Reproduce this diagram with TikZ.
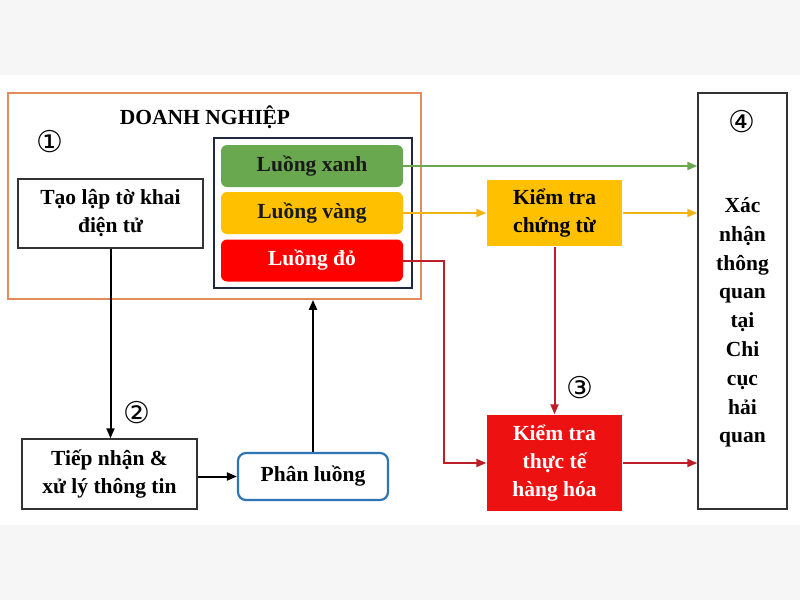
\documentclass[tikz,border=0pt]{standalone}
\usepackage{fontspec}
\setmainfont{Liberation Serif}
\newfontfamily\circfont{DejaVu Sans}
\usetikzlibrary{arrows.meta}
\definecolor{dnorange}{RGB}{226,140,92}
\definecolor{navy}{RGB}{31,40,64}
\definecolor{lxanh}{RGB}{106,168,79}
\definecolor{lvang}{RGB}{255,192,0}
\definecolor{lvangline}{RGB}{240,180,20}
\definecolor{ldo}{RGB}{255,0,0}
\definecolor{boxred}{RGB}{238,17,17}
\definecolor{darkred}{RGB}{190,30,40}
\definecolor{pblue}{RGB}{46,117,182}
\definecolor{bandgray}{RGB}{246,246,246}
\tikzset{
  box/.style={draw=black!80, line width=1.4pt, align=center, inner sep=0pt,
    font=\bfseries\fontsize{21.5}{28}\selectfont},
  lane/.style={rounded corners=6pt, minimum width=182pt, minimum height=42pt,
    inner sep=0pt, font=\bfseries\fontsize{21.5}{28}\selectfont},
  num/.style={font=\circfont\fontsize{30}{30}\selectfont},
  arr/.style={-{Triangle[length=10pt,width=8pt]}, line width=2pt}
}
\begin{document}
\begin{tikzpicture}[x=1pt,y=-1pt]
  % background bands
  \fill[white] (0,0) rectangle (800,600);
  \fill[bandgray] (0,0) rectangle (800,75);
  \fill[bandgray] (0,525) rectangle (800,600);
  \useasboundingbox (0,0) rectangle (800,600);

  % doanh nghiep
  \node (dn) at (214.5,196) [draw=dnorange, line width=1.8pt,
    minimum width=413pt, minimum height=206pt] {};
  \node (title) at (205,117) [font=\bfseries\fontsize{21.5}{28}\selectfont] {DOANH NGHIỆP};
  \node[num] (n1) at (50,142) {①};
  \node[box, minimum width=185pt, minimum height=69pt] (taolap) at (110.5,213.5)
    {Tạo lập tờ khai\\điện tử};
  \node (group) at (313,213) [draw=navy, line width=1.8pt,
    minimum width=198pt, minimum height=150pt] {};
  \node[lane, fill=lxanh, text=black!90] (xanh) at (312,166) {Luồng xanh};
  \node[lane, fill=lvang, text=black!90] (vang) at (312,213) {Luồng vàng};
  \node[lane, fill=ldo, text=white] (do) at (312,260.5) {Luồng đỏ};

  % hai quan
  \node[box, minimum width=135pt, minimum height=66pt, draw=none, fill=lvang]
    (chungtu) at (554.5,213) {Kiểm tra\\chứng từ};
  \node[box, minimum width=135pt, minimum height=96pt, draw=none, fill=boxred, text=white]
    (thucte) at (554.5,463) {Kiểm tra\\thực tế\\hàng hóa};
  \node[box, minimum width=89pt, minimum height=416pt] (xn) at (742.5,301) {};
  \node[num] (n4) at (742,122) {④};
  \node[box, draw=none, font=\bfseries\fontsize{21.5}{28.8}\selectfont] (xntext) at (742.5,322.5)
    {Xác\\nhận\\thông\\quan\\tại\\Chi\\cục\\hải\\quan};

  \node[box, minimum width=175pt, minimum height=70pt] (tiepnhan) at (109.5,474)
    {Tiếp nhận \&\\xử lý thông tin};
  \node[box, draw=pblue, line width=2.2pt, rounded corners=8pt,
    minimum width=150pt, minimum height=47pt] (phanluong) at (313,476.5) {Phân luồng};
  \node[num] (n2) at (137,413) {②};
  \node[num] (n3) at (580,388) {③};

  % connectors
  \draw[arr, lxanh] (xanh.east) -- (xanh.east -| xn.west);
  \draw[arr, lvangline] (vang.east) -- (chungtu.west);
  \draw[arr, lvangline] (chungtu.east) -- (chungtu.east -| xn.west);
  \coordinate (bend) at (444,260.5);
  \draw[arr, darkred] (do.east) -- (bend) |- (thucte.west);
  \draw[arr, darkred] (chungtu.south) -- (thucte.north);
  \draw[arr, darkred] (thucte.east) -- (thucte.east -| xn.west);
  \draw[arr, black] (taolap.south) -- (taolap.south |- tiepnhan.north);
  \draw[arr, black] (phanluong.west -| tiepnhan.east) -- (phanluong.west);
  \draw[arr, black] (phanluong.north) -- (phanluong.north |- dn.south);
\end{tikzpicture}
\end{document}
